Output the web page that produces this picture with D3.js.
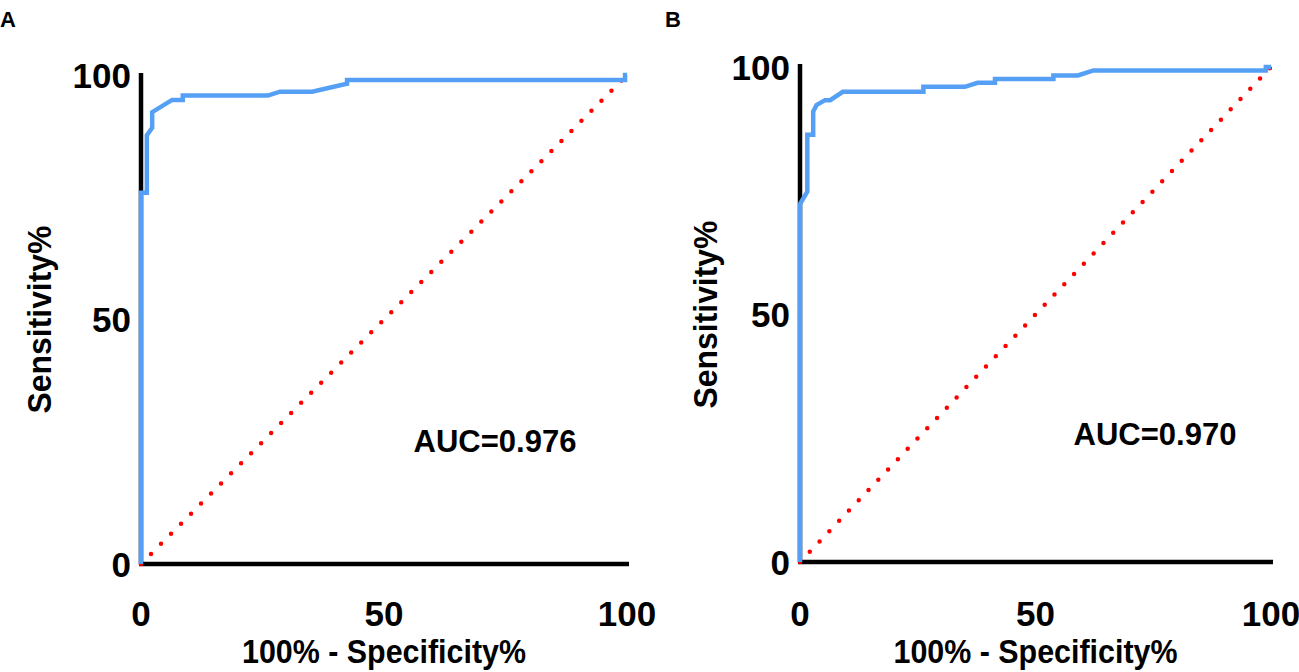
<!DOCTYPE html>
<html>
<head>
<meta charset="utf-8">
<script src="https://cdn.jsdelivr.net/npm/d3@7"></script>
<style>
  html, body { margin: 0; padding: 0; background: #fff; }
  svg { display: block; }
  text { font-family: "Liberation Sans", Arial, Helvetica, sans-serif; font-weight: bold; fill: #000; }
</style>
</head>
<body>
<svg id="chart" width="1299" height="672"></svg>
<script>
// ---- data ----
const xTicks = [0, 50, 100];
const yTicks = [0, 50, 100];
const panelLabels = ["A", "B"];
const aucLabels = ["AUC=0.976", "AUC=0.970"];
const xTitle = "100% - Specificity%";
const yTitle = "Sensitivity%";

const panelA_fpr = [0, 0, 1.2, 1.2, 2.3, 2.3, 6.4, 8.6, 8.6, 26.1, 28.6, 35.2, 42.4, 42.4, 99.6, 99.6, 100];
const panelA_tpr = [0, 75.9, 75.9, 87.7, 89.2, 92.4, 94.9, 94.9, 95.8, 95.8, 96.6, 96.6, 98.2, 99.0, 99.0, 100, 100];

const panelB_fpr = [0, 0, 1.55, 1.55, 2.8, 2.8, 3.5, 5.3, 6.4, 9.1, 26.2, 26.2, 35.0, 37.7, 41.4, 41.4, 53.8, 53.8, 59.0, 62.3, 98.9, 98.9, 100];
const panelB_tpr = [0, 72.3, 74.8, 86.3, 86.3, 91.0, 92.3, 93.3, 93.3, 95.0, 95.0, 96.0, 96.0, 96.8, 96.8, 97.6, 97.6, 98.3, 98.3, 99.3, 99.3, 100, 100];

const referenceLine = [0, 100];

// ---- layout ----
const panels = [
  { label: panelLabels[0], auc: aucLabels[0], fpr: panelA_fpr, tpr: panelA_tpr,
    x0: 141, x1: 627, y0: 564, y1: 75, axisTop: 73,
    labelPos: [0, 27], aucPos: [495, 452], yTitleX: 51, xTitleY: 663, tickY: 626 },
  { label: panelLabels[1], auc: aucLabels[1], fpr: panelB_fpr, tpr: panelB_tpr,
    x0: 800, x1: 1271, y0: 562, y1: 67, axisTop: 64,
    labelPos: [665, 27], aucPos: [1155, 445], yTitleX: 717, xTitleY: 663, tickY: 626 }
];

const svg = d3.select("#chart");

panels.forEach(p => {
  const x = d3.scaleLinear().domain([0, 100]).range([p.x0, p.x1]);
  const y = d3.scaleLinear().domain([0, 100]).range([p.y0, p.y1]);
  const g = svg.append("g");

  // panel label
  g.append("text").attr("x", p.labelPos[0]).attr("y", p.labelPos[1])
    .attr("font-size", 22).text(p.label);

  // axes
  g.append("line").attr("x1", x(0)).attr("x2", x(0))
    .attr("y1", y(0)).attr("y2", p.axisTop)
    .attr("stroke", "#000").attr("stroke-width", 4.5);
  g.append("line").attr("x1", x(0) - 2).attr("x2", x(100) + 2)
    .attr("y1", y(0)).attr("y2", y(0))
    .attr("stroke", "#000").attr("stroke-width", 4.5);

  // tick labels
  g.selectAll(".yt").data(yTicks).enter().append("text")
    .attr("x", x(0) - 10).attr("y", d => y(d)).attr("dy", "0.36em")
    .attr("text-anchor", "end").attr("font-size", 35).text(d => d);
  g.selectAll(".xt").data(xTicks).enter().append("text")
    .attr("x", d => x(d)).attr("y", p.tickY)
    .attr("text-anchor", "middle").attr("font-size", 35).text(d => d);

  // axis titles
  g.append("text").attr("x", (x(0) + x(100)) / 2).attr("y", p.xTitleY)
    .attr("text-anchor", "middle").attr("font-size", 34)
    .attr("textLength", 284).attr("lengthAdjust", "spacingAndGlyphs").text(xTitle);
  g.append("text")
    .attr("transform", `translate(${p.yTitleX},${(y(0) + y(100)) / 2}) rotate(-90)`)
    .attr("text-anchor", "middle").attr("font-size", 34)
    .attr("textLength", 188).attr("lengthAdjust", "spacingAndGlyphs").text(yTitle);

  // reference diagonal (dotted red)
  g.append("line")
    .attr("x1", x(referenceLine[0])).attr("y1", y(referenceLine[0]))
    .attr("x2", x(referenceLine[1])).attr("y2", y(referenceLine[1]))
    .attr("stroke", "#ff0000").attr("stroke-width", 4.5)
    .attr("stroke-linecap", "round").attr("stroke-dasharray", "0 14.2");

  // ROC curve
  const pts = p.fpr.map((f, i) => [f, p.tpr[i]]);
  const line = d3.line().x(d => x(d[0])).y(d => y(d[1]));
  g.append("path").datum(pts).attr("d", line)
    .attr("fill", "none").attr("stroke", "#55a0f5").attr("stroke-width", 4.5)
    .attr("stroke-linejoin", "miter");

  // AUC
  g.append("text").attr("x", p.aucPos[0]).attr("y", p.aucPos[1])
    .attr("text-anchor", "middle").attr("font-size", 31).text(p.auc);
});
</script>
</body>
</html>
